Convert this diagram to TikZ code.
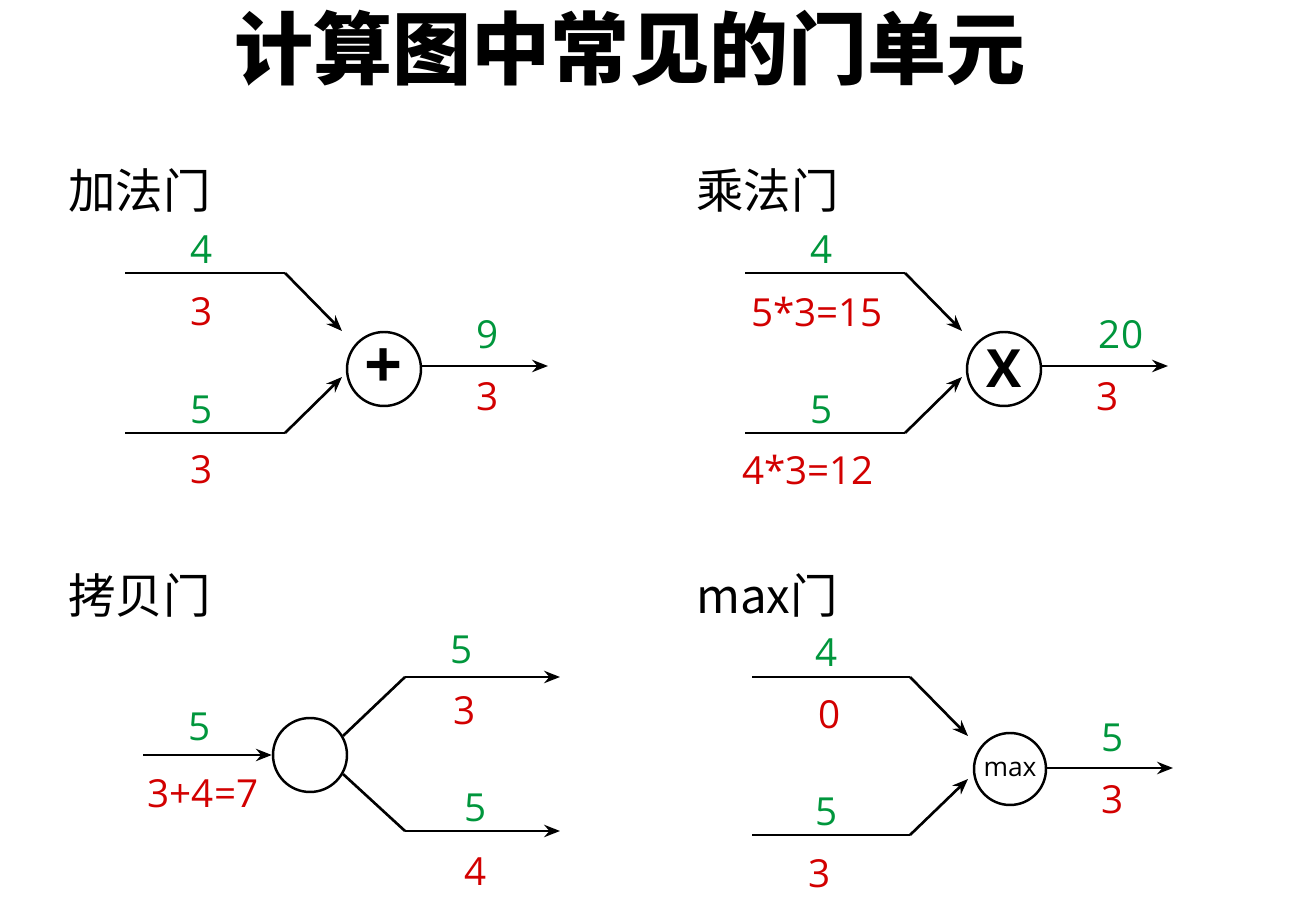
\documentclass[tikz,border=0pt]{standalone}
\usepackage{fontspec}
\setmainfont{Open Sans}
\newfontfamily\cjk{Noto Sans CJK SC}
\usetikzlibrary{arrows.meta}
\definecolor{grn}{RGB}{0,150,60}
\definecolor{rd}{RGB}{210,0,0}
\tikzset{
  wire/.style={line width=1.5pt},
  arr/.style={wire,-{Stealth[length=9pt,width=7pt]}},
  gate/.style={circle,draw,line width=1.4pt,minimum size=1.48cm,inner sep=0pt},
  fwd/.style={text=grn,font=\fontsize{22}{22}\selectfont},
  bwd/.style={text=rd,font=\fontsize{22}{22}\selectfont},
  gname/.style={anchor=west,font=\cjk\fontsize{27}{27}\selectfont}
}
\begin{document}
\begin{tikzpicture}[x=0.02cm,y=-0.02cm]
  \useasboundingbox (0,0) rectangle (1309,911);
  \node (title) at (630,48) {\cjk\bfseries\fontsize{45}{45}\selectfont 计算图中常见的门单元};
  % add gate
  \node[gname] (addname) at (62,190) {加法门};
  \node[gate] (add) at (384,369) {\fontsize{38}{38}\selectfont\bfseries +};
  \coordinate (a1) at (125,273); \coordinate (a1k) at (285,273);
  \coordinate (a2) at (125,433); \coordinate (a2k) at (285,433);
  \coordinate (a1e) at (342,331); \coordinate (a2e) at (342,377);
  \coordinate (aout) at (548,366);
  \draw[wire] (a1) -- (a1k); \draw[arr] (a1k) -- (a1e);
  \draw[wire] (a2) -- (a2k); \draw[arr] (a2k) -- (a2e);
  \draw[arr] (add.east |- aout) -- (aout);
  \node[fwd] (af1) at (202,250) {4}; \node[bwd] (ab1) at (202,312) {3};
  \node[fwd] (af2) at (202,410) {5}; \node[bwd] (ab2) at (202,470) {3};
  \node[fwd] (afo) at (488,335) {9}; \node[bwd] (abo) at (488,397) {3};
  % multiply gate
  \node[gname] (mulname) at (690,190) {乘法门};
  \node[gate] (mul) at (1004,369) {\fontsize{30}{30}\selectfont\bfseries X};
  \coordinate (m1) at (745,273); \coordinate (m1k) at (905,273);
  \coordinate (m2) at (745,433); \coordinate (m2k) at (905,433);
  \coordinate (m1e) at (962,331); \coordinate (m2e) at (962,377);
  \coordinate (mout) at (1168,366);
  \draw[wire] (m1) -- (m1k); \draw[arr] (m1k) -- (m1e);
  \draw[wire] (m2) -- (m2k); \draw[arr] (m2k) -- (m2e);
  \draw[arr] (mul.east |- mout) -- (mout);
  \node[fwd] (mf1) at (822,250) {4}; \node[bwd] (mb1) at (817,312) {5*3=15};
  \node[fwd] (mf2) at (822,410) {5}; \node[bwd] (mb2) at (808,470) {4*3=12};
  \node[fwd] (mfo) at (1121,335) {20}; \node[bwd] (mbo) at (1108,397) {3};
  % copy gate
  \node[gname] (copyname) at (62,595) {拷贝门};
  \node[gate] (copy) at (310,755) {};
  \coordinate (c0) at (143,755);
  \coordinate (c1k) at (405,677); \coordinate (c1) at (560,677);
  \coordinate (c2k) at (405,831); \coordinate (c2) at (560,831);
  \draw[arr] (c0) -- (copy.west);
  \draw[wire] (copy.30) -- (c1k); \draw[arr] (c1k) -- (c1);
  \draw[wire] (copy.-30) -- (c2k); \draw[arr] (c2k) -- (c2);
  \node[fwd] (cf0) at (200,727) {5}; \node[bwd] (cb0) at (203,794) {3+4=7};
  \node[fwd] (cf1) at (462,650) {5}; \node[bwd] (cb1) at (465,711) {3};
  \node[fwd] (cf2) at (476,808) {5}; \node[bwd] (cb2) at (476,872) {4};
  % max gate
  \node[gname] (maxname) at (690,595) {max\cjk 门};
  \node[gate,minimum size=1.44cm] (max) at (1010,769) {\fontsize{15}{15}\selectfont max};
  \coordinate (x1) at (752,677); \coordinate (x1k) at (910,677);
  \coordinate (x2) at (752,835); \coordinate (x2k) at (910,835);
  \coordinate (x1e) at (968,736); \coordinate (x2e) at (968,779);
  \coordinate (xout) at (1173,768);
  \draw[wire] (x1) -- (x1k); \draw[arr] (x1k) -- (x1e);
  \draw[wire] (x2) -- (x2k); \draw[arr] (x2k) -- (x2e);
  \draw[arr] (max.east |- xout) -- (xout);
  \node[fwd] (xf1) at (827,653) {4}; \node[bwd] (xb1) at (830,715) {0};
  \node[fwd] (xf2) at (827,812) {5}; \node[bwd] (xb2) at (820,874) {3};
  \node[fwd] (xfo) at (1113,738) {5}; \node[bwd] (xbo) at (1113,800) {3};
\end{tikzpicture}
\end{document}
